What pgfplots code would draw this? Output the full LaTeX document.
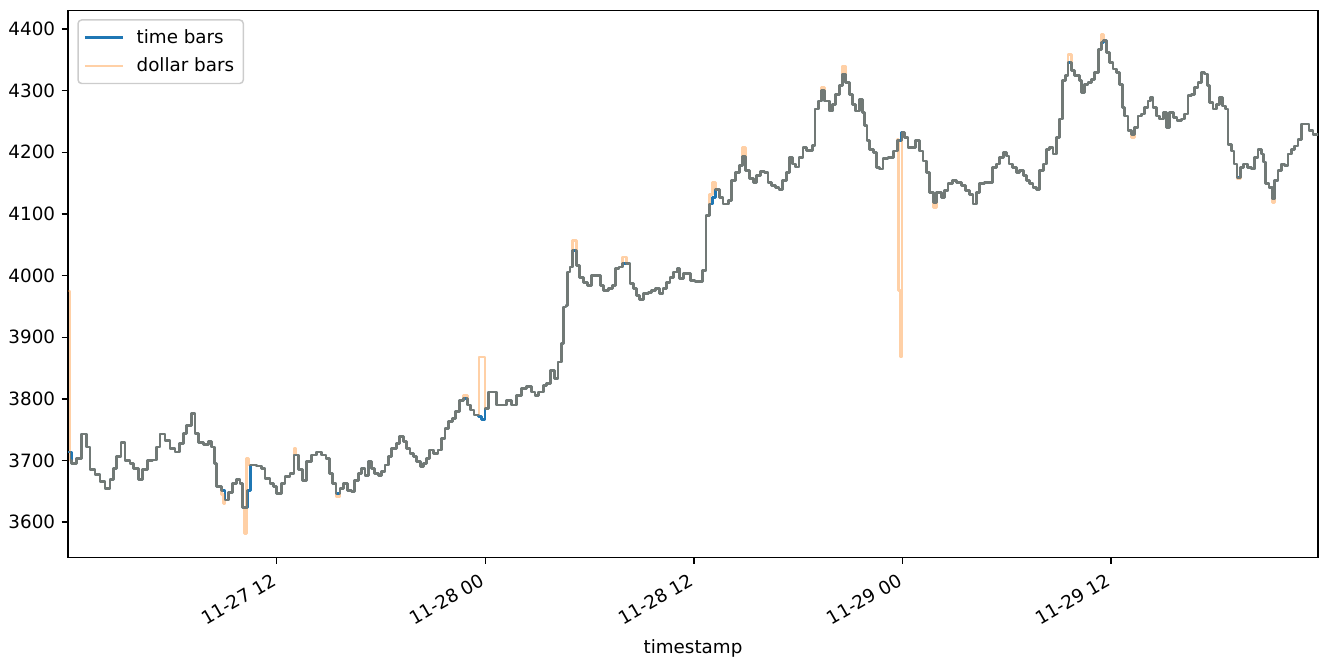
\documentclass[border=0pt]{standalone}
\usepackage{fontspec}
\setmainfont{DejaVu Sans}
\usepackage{pgfplots}
\usepackage{pgfplotstable}
\pgfplotsset{compat=1.18}

\definecolor{mplblue}{HTML}{1F77B4}
\definecolor{mplorange}{HTML}{FF7F0E}
\definecolor{legendedge}{HTML}{CCCCCC}

% hours since 11-27 00:00, close price of the time bars
\pgfplotstableread{
h v
0.00 3714
0.21 3695
0.50 3703
0.79 3743
1.07 3722
1.27 3685
1.55 3677
1.84 3666
2.13 3655
2.42 3669
2.61 3687
2.80 3706
3.05 3729
3.28 3700
3.57 3695
3.76 3687
4.05 3669
4.29 3685
4.56 3700
4.87 3701
5.10 3722
5.29 3743
5.58 3733
5.87 3720
6.15 3714
6.40 3728
6.63 3744
6.83 3757
7.11 3776
7.30 3744
7.49 3729
7.78 3726
8.07 3731
8.26 3722
8.41 3695
8.55 3658
8.84 3652
9.03 3636
9.22 3648
9.47 3663
9.70 3669
9.89 3663
10.05 3624
10.31 3652
10.50 3693
10.85 3691
11.14 3687
11.33 3671
11.62 3663
11.81 3658
12.00 3647
12.29 3663
12.48 3674
12.77 3679
13.00 3709
13.24 3685
13.50 3668
13.73 3698
14.01 3709
14.30 3714
14.59 3709
14.84 3703
15.03 3679
15.22 3663
15.41 3647
15.64 3655
15.83 3663
16.06 3652
16.31 3650
16.50 3668
16.70 3679
16.89 3687
17.08 3676
17.27 3698
17.46 3687
17.65 3679
17.85 3676
18.04 3682
18.23 3693
18.42 3706
18.61 3720
18.90 3728
19.09 3739
19.28 3731
19.48 3720
19.67 3712
19.86 3706
20.05 3698
20.28 3690
20.47 3695
20.63 3703
20.78 3717
21.01 3712
21.29 3717
21.49 3736
21.68 3752
21.87 3763
22.12 3768
22.31 3779
22.50 3798
22.73 3801
22.96 3790
23.16 3782
23.35 3774
23.60 3771
23.79 3766
23.98 3784
24.17 3811
24.46 3811
24.65 3790
24.94 3790
25.23 3798
25.51 3790
25.80 3806
26.09 3817
26.38 3820
26.66 3811
26.86 3806
27.05 3811
27.33 3822
27.53 3825
27.76 3846
28.00 3833
28.19 3860
28.39 3890
28.48 3949
28.64 3952
28.71 4006
28.87 4014
29.02 4041
29.25 4016
29.44 3997
29.67 3989
29.86 3984
30.11 4000
30.40 4000
30.63 3984
30.82 3976
31.07 3979
31.32 3984
31.51 4011
31.70 4014
31.90 4019
32.13 4019
32.32 3987
32.51 3979
32.70 3968
32.89 3961
33.12 3971
33.37 3973
33.57 3976
33.81 3979
34.04 3971
34.23 3979
34.43 3989
34.62 3997
34.81 4006
35.04 4011
35.19 3995
35.42 4003
35.67 4003
35.81 3992
36.06 3991
36.34 3991
36.50 4008
36.69 4097
36.88 4116
37.07 4127
37.26 4140
37.49 4127
37.68 4116
37.97 4122
38.16 4154
38.41 4167
38.64 4178
38.80 4193
38.99 4170
39.18 4157
39.41 4151
39.60 4162
39.83 4169
40.08 4167
40.27 4151
40.46 4146
40.71 4143
40.90 4140
41.10 4154
41.33 4167
41.48 4192
41.67 4181
41.86 4176
42.05 4192
42.28 4208
42.48 4203
42.67 4203
42.82 4211
42.96 4270
43.15 4283
43.34 4300
43.53 4283
43.78 4267
43.97 4278
44.16 4294
44.39 4308
44.55 4327
44.74 4313
44.93 4294
45.12 4278
45.31 4267
45.54 4286
45.70 4265
45.83 4243
45.96 4219
46.12 4205
46.31 4200
46.50 4175
46.69 4173
46.88 4190
47.17 4192
47.46 4202
47.69 4219
47.94 4232
48.13 4224
48.32 4208
48.57 4208
48.76 4219
48.99 4202
49.18 4186
49.38 4167
49.57 4135
49.76 4119
49.95 4135
50.24 4127
50.43 4138
50.62 4149
50.87 4154
51.10 4151
51.39 4146
51.64 4138
51.87 4132
52.06 4116
52.25 4135
52.44 4149
52.73 4151
52.98 4151
53.17 4175
53.40 4181
53.59 4192
53.79 4200
53.98 4194
54.13 4181
54.32 4175
54.55 4167
54.74 4170
54.94 4162
55.13 4154
55.32 4149
55.51 4143
55.70 4140
55.89 4170
56.09 4181
56.28 4205
56.47 4208
56.66 4197
56.85 4224
57.04 4254
57.20 4316
57.39 4324
57.52 4345
57.72 4332
57.91 4324
58.16 4316
58.29 4297
58.48 4310
58.67 4313
58.87 4318
59.06 4329
59.25 4367
59.44 4378
59.57 4381
59.73 4362
59.92 4345
60.11 4335
60.30 4329
60.49 4310
60.65 4272
60.78 4259
60.97 4235
61.17 4229
61.36 4240
61.55 4259
61.74 4262
61.93 4272
62.12 4283
62.26 4289
62.41 4272
62.60 4259
62.79 4254
62.99 4265
63.18 4240
63.37 4265
63.60 4256
63.79 4251
64.04 4254
64.23 4262
64.42 4292
64.61 4294
64.81 4305
65.00 4313
65.19 4329
65.38 4327
65.52 4308
65.67 4281
65.86 4270
66.05 4278
66.24 4289
66.40 4275
66.59 4270
66.72 4213
66.91 4202
67.07 4181
67.24 4159
67.43 4175
67.62 4181
67.82 4175
68.07 4173
68.26 4192
68.45 4205
68.64 4197
68.78 4184
68.89 4149
69.08 4143
69.27 4124
69.40 4154
69.60 4170
69.79 4181
69.98 4178
70.17 4197
70.37 4205
70.56 4210
70.75 4221
70.94 4246
71.19 4246
71.38 4235
71.61 4229
71.90 4227
}\timebars

% close price of the dollar bars, same time axis
\pgfplotstableread{
h v
0.00 3975
0.12 3700
0.21 3695
0.50 3703
0.79 3743
1.07 3722
1.27 3685
1.55 3677
1.84 3666
2.13 3655
2.42 3669
2.61 3687
2.80 3706
3.05 3729
3.28 3700
3.57 3695
3.76 3687
4.05 3669
4.29 3685
4.56 3700
4.87 3701
5.10 3722
5.29 3743
5.58 3733
5.87 3720
6.15 3714
6.40 3728
6.63 3744
6.83 3757
7.11 3776
7.30 3744
7.49 3729
7.78 3726
8.07 3731
8.26 3722
8.41 3695
8.55 3658
8.84 3645
8.95 3630
9.03 3636
9.22 3648
9.47 3663
9.70 3669
9.89 3663
10.05 3624
10.17 3582
10.28 3703
10.40 3693
10.85 3691
11.14 3687
11.33 3671
11.62 3663
11.81 3658
12.00 3647
12.29 3663
12.48 3674
12.77 3679
13.00 3720
13.12 3709
13.24 3685
13.50 3668
13.73 3698
14.01 3709
14.30 3714
14.59 3709
14.84 3703
15.03 3679
15.22 3663
15.41 3642
15.64 3655
15.83 3663
16.06 3652
16.31 3650
16.50 3668
16.70 3679
16.89 3687
17.08 3676
17.27 3698
17.46 3687
17.65 3679
17.85 3676
18.04 3682
18.23 3693
18.42 3706
18.61 3720
18.90 3728
19.09 3739
19.28 3731
19.48 3720
19.67 3712
19.86 3706
20.05 3698
20.28 3690
20.47 3695
20.63 3703
20.78 3717
21.01 3712
21.29 3717
21.49 3736
21.68 3752
21.87 3763
22.12 3768
22.31 3779
22.50 3798
22.73 3806
22.96 3790
23.16 3782
23.35 3774
23.64 3868
23.98 3784
24.17 3811
24.46 3811
24.65 3790
24.94 3790
25.23 3798
25.51 3790
25.80 3806
26.09 3817
26.38 3820
26.66 3811
26.86 3806
27.05 3811
27.33 3822
27.53 3825
27.76 3846
28.00 3833
28.19 3860
28.39 3890
28.48 3949
28.64 3952
28.71 4006
28.87 4014
29.02 4057
29.25 4016
29.44 3997
29.67 3989
29.86 3984
30.11 4000
30.40 4000
30.63 3984
30.82 3976
31.07 3979
31.32 3984
31.51 4011
31.70 4014
31.90 4030
32.13 4019
32.32 3987
32.51 3979
32.70 3968
32.89 3961
33.12 3971
33.37 3973
33.57 3976
33.81 3979
34.04 3971
34.23 3979
34.43 3989
34.62 3997
34.81 4006
35.04 4011
35.19 3995
35.42 4003
35.67 4003
35.81 3992
36.06 3991
36.34 3991
36.50 4008
36.69 4097
36.88 4132
37.07 4151
37.26 4140
37.49 4127
37.68 4116
37.97 4122
38.16 4154
38.41 4167
38.64 4178
38.80 4208
38.99 4170
39.18 4157
39.41 4151
39.60 4162
39.83 4169
40.08 4167
40.27 4151
40.46 4146
40.71 4143
40.90 4140
41.10 4154
41.33 4167
41.48 4192
41.67 4181
41.86 4176
42.05 4192
42.28 4208
42.48 4203
42.67 4203
42.82 4211
42.96 4270
43.15 4283
43.34 4305
43.53 4283
43.78 4267
43.97 4278
44.16 4294
44.39 4308
44.55 4340
44.74 4313
44.93 4294
45.12 4278
45.31 4267
45.54 4286
45.70 4265
45.83 4243
45.96 4219
46.12 4205
46.31 4200
46.50 4175
46.69 4173
46.88 4190
47.17 4192
47.46 4202
47.69 4221
47.78 3976
47.88 3868
47.97 4232
48.13 4224
48.32 4208
48.57 4208
48.76 4219
48.99 4202
49.18 4186
49.38 4167
49.57 4135
49.76 4111
49.95 4135
50.24 4127
50.43 4138
50.62 4149
50.87 4154
51.10 4151
51.39 4146
51.64 4138
51.87 4132
52.06 4116
52.25 4135
52.44 4149
52.73 4151
52.98 4151
53.17 4175
53.40 4181
53.59 4192
53.79 4200
53.98 4194
54.13 4181
54.32 4175
54.55 4167
54.74 4170
54.94 4162
55.13 4154
55.32 4149
55.51 4143
55.70 4140
55.89 4170
56.09 4181
56.28 4205
56.47 4208
56.66 4197
56.85 4224
57.04 4254
57.20 4316
57.39 4324
57.52 4359
57.72 4332
57.91 4324
58.16 4316
58.29 4297
58.48 4310
58.67 4313
58.87 4318
59.06 4329
59.25 4367
59.44 4391
59.57 4381
59.73 4362
59.92 4345
60.11 4335
60.30 4329
60.49 4310
60.65 4272
60.78 4259
60.97 4235
61.17 4224
61.36 4240
61.55 4259
61.74 4262
61.93 4272
62.12 4283
62.26 4289
62.41 4272
62.60 4259
62.79 4254
62.99 4265
63.18 4240
63.37 4265
63.60 4256
63.79 4251
64.04 4254
64.23 4262
64.42 4292
64.61 4294
64.81 4305
65.00 4313
65.19 4329
65.38 4327
65.52 4308
65.67 4281
65.86 4270
66.05 4278
66.24 4289
66.40 4275
66.59 4270
66.72 4213
66.91 4202
67.07 4181
67.24 4157
67.43 4175
67.62 4181
67.82 4175
68.07 4173
68.26 4192
68.45 4205
68.64 4197
68.78 4184
68.89 4149
69.08 4143
69.27 4119
69.40 4154
69.60 4170
69.79 4181
69.98 4178
70.17 4197
70.37 4205
70.56 4210
70.75 4221
70.94 4246
71.19 4246
71.38 4235
71.61 4229
71.90 4227
}\dollarbars

\begin{document}
\begin{tikzpicture}
\path[use as bounding box] (-37.1pt,-54.4pt) rectangle (684.1pt,304.3pt);
\begin{axis}[
  at={(0pt,0pt)}, anchor=south west,
  scale only axis, width=682.5pt, height=298.6pt,
  xmin=0, xmax=71.9, ymin=3543, ymax=4430,
  axis line style={line width=0.8pt, black},
  tick align=outside, major tick length=3.5pt,
  tick style={line width=0.8pt, black},
  xtick pos=lower, ytick pos=left,
  xtick={12,24,36,48,60},
  xticklabels={11-27 12, 11-28 00, 11-28 12, 11-29 00, 11-29 12},
  ytick={3600,3700,...,4400},
  font=\fontsize{10}{12}\selectfont,
  ticklabel style={font=\fontsize{10}{12}\selectfont},
  /pgf/number format/assume math mode=true,
  /pgf/number format/set thousands separator={},
  scaled y ticks=false,
  xticklabel style={xshift=-2pt, rotate=30, anchor=north east},
  xlabel={timestamp},
  xlabel style={at={(axis description cs:0.5,0)}, anchor=base, yshift=-52.3pt},
  legend cell align=left,
  legend image code/.code={\draw[#1, line width=1.5pt] (0pt,0pt) -- (21pt,0pt); \path (25.5pt,0pt);},
  legend style={at={(0,1)}, anchor=north west, xshift=5.1pt, yshift=-4.8pt,
    draw=legendedge, line width=0.8pt, rounded corners=2pt,
    fill=white, fill opacity=0.8, draw opacity=1, text opacity=1,
    font=\fontsize{10}{12}\selectfont, row sep=2.5pt, inner xsep=3pt, inner ysep=3pt},
]
\addplot[const plot, mplblue, line width=1.5pt, line join=round] table[x=h, y=v] {\timebars};
\addplot[const plot, mplorange, opacity=0.37, line width=1.5pt, line join=round] table[x=h, y=v] {\dollarbars};
\legend{time bars, dollar bars}
\end{axis}
\end{tikzpicture}
\end{document}
